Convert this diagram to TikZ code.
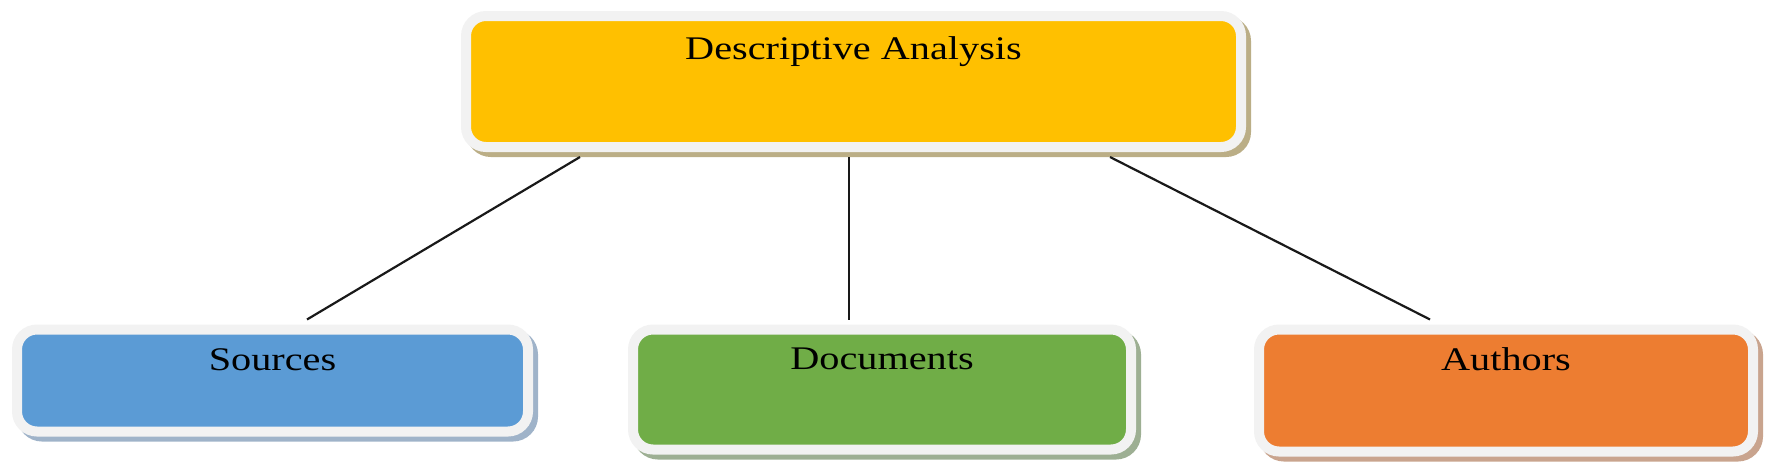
\documentclass[tikz,border=0pt]{standalone}
\usepackage{fontspec}
\setmainfont{Liberation Serif}[FakeStretch=1.22]
\definecolor{bordercol}{HTML}{F2F2F2}
\definecolor{cyellow}{HTML}{FFC000}
\definecolor{cblue}{HTML}{5B9BD5}
\definecolor{cgreen}{HTML}{70AD47}
\definecolor{corange}{HTML}{ED7D31}
\definecolor{syellow}{HTML}{BBAE86}
\definecolor{sblue}{HTML}{9FB3C9}
\definecolor{sgreen}{HTML}{9DAF93}
\definecolor{sorange}{HTML}{C9A48E}
\begin{document}
\begin{tikzpicture}[x=1pt,y=-1pt,
  boxstyle/.style n args={2}{draw=bordercol, line width=10pt, fill=#1,
    rounded corners=20pt, inner xsep=0pt, inner ysep=0pt, anchor=north,
    font=\fontsize{33}{38}\selectfont, text=black,
    preaction={draw=#2, fill=#2, line width=10pt,
      transform canvas={xshift=5pt,yshift=-5pt}}},
  conn/.style={draw=black!90, line width=2.2pt}]
\useasboundingbox (0,0) rectangle (1772,466);
\node[boxstyle={cyellow}{syellow}, minimum width=775pt, text height=43pt, text depth=88pt]
  (top) at (853.5,11) {Descriptive Analysis};
\node[boxstyle={cblue}{sblue}, minimum width=511pt, text height=41pt, text depth=61pt]
  (src) at (272.5,324.5) {Sources};
\node[boxstyle={cgreen}{sgreen}, minimum width=498pt, text height=40pt, text depth=80pt]
  (doc) at (882,324.5) {Documents};
\node[boxstyle={corange}{sorange}, minimum width=494pt, text height=41pt, text depth=81pt]
  (aut) at (1506,324.5) {Authors};
\draw[conn] ([xshift=-273.5pt,yshift=-5pt]top.south) -- ([xshift=34.5pt,yshift=5pt]src.north);
\draw[conn] ([xshift=-4.5pt,yshift=-5pt]top.south) -- ([xshift=-33pt,yshift=5pt]doc.north);
\draw[conn] ([xshift=256.5pt,yshift=-5pt]top.south) -- ([xshift=-76pt,yshift=5pt]aut.north);
\end{tikzpicture}
\end{document}
